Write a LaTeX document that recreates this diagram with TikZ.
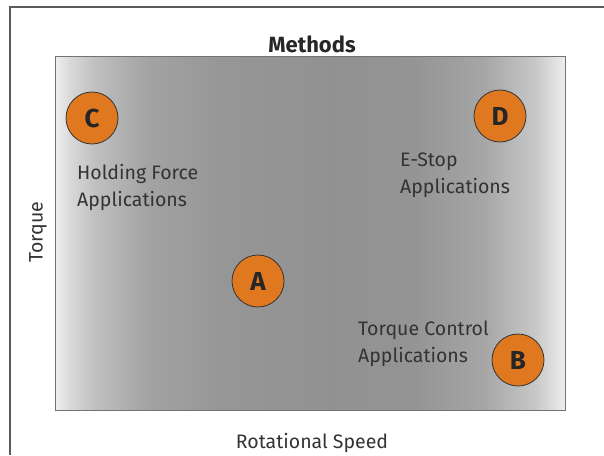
\documentclass[tikz,border=0pt]{standalone}
\usepackage{fontspec}
\setmainfont{Fira Sans}
\usepackage{tikz}

\definecolor{methodorange}{HTML}{E07820}
\definecolor{labelgray}{HTML}{333333}
\definecolor{framegray}{HTML}{5A5A5A}

% grey field, light at both sides
\pgfdeclarehorizontalshading{methodsfade}{100bp}{%
  color(0bp)=(white!94!black); color(25bp)=(white!94!black);
  color(26.5bp)=(white!85!black); color(29bp)=(white!75!black);
  color(34bp)=(white!64!black); color(41bp)=(white!59!black);
  color(52bp)=(white!57!black); color(60bp)=(white!58!black);
  color(67bp)=(white!65!black); color(72bp)=(white!78!black);
  color(75bp)=(white!93!black); color(100bp)=(white!93!black)}

\begin{document}
\begin{tikzpicture}[x=1pt, y=-1pt,
  method/.style={circle, draw=black!80, fill=methodorange, line width=0.8pt,
    minimum size=52pt, inner sep=0pt, font=\fontsize{26}{26}\selectfont\bfseries, text=black!85},
  app/.style={align=left, anchor=north west, inner sep=0pt, text=labelgray,
    font=\fontsize{19.5}{27}\selectfont},
  axislabel/.style={text=labelgray, font=\fontsize{19.5}{22}\selectfont}]
  \useasboundingbox (0,0) rectangle (604,455);

  % outer frame, open at right and bottom
  \draw[framegray, line width=1.3pt] (10,455) -- (10,7) -- (604,7);

  % the field
  \shade[shading=methodsfade] (55,56) rectangle (565,410);
  \draw[black!55, line width=1pt] (55,56) rectangle (565,410);

  \node[font=\fontsize{22}{22}\selectfont\bfseries, text=black!85] (title) at (312,44) {Methods};
  \node[axislabel, rotate=90] (ylab) at (38,232) {Torque};
  \node[axislabel] (xlab) at (312,443) {Rotational Speed};

  % methods
  \node[method] (C) at (92,118) {C};
  \node[method] (D) at (500,116) {D};
  \node[method] (A) at (258,281) {A};
  \node[method] (B) at (518,360) {B};

  % application areas
  \node[app] (hold) at (77,164) {Holding Force\\Applications};
  \node[app] (estop) at (400,153) {E-Stop\\Applications};
  \node[app] (tctrl) at (358,321) {Torque Control\\Applications};
\end{tikzpicture}
\end{document}
